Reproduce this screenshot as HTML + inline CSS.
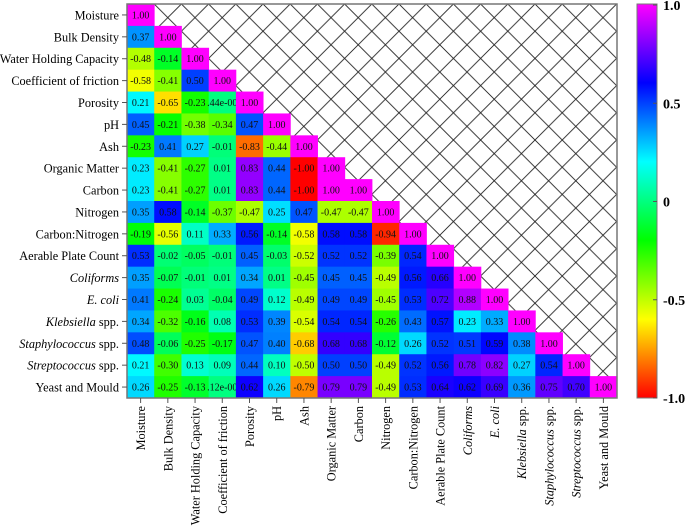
<!DOCTYPE html>
<html><head><meta charset="utf-8"><style>
body{margin:0;background:#fff}
svg{display:block;font-family:"Liberation Serif",serif}
</style></head><body>
<svg id="chart" width="685" height="526">
<defs>
<pattern id="hatch" patternUnits="userSpaceOnUse" width="27.2" height="27.2" x="127" y="4">
<path d="M0,0L27.2,27.2M27.2,0L0,27.2" stroke="#222" stroke-width="0.9"/>
</pattern>
<linearGradient id="cbgrad" x1="0" y1="0" x2="0" y2="1"></linearGradient>
</defs>
<rect x="127" y="4" width="490" height="394" fill="url(#hatch)"/>
<g id="cells"></g>
<rect x="127" y="4" width="490" height="394" fill="none" stroke="#777" stroke-width="1.5"/>
<g id="axes"></g>
<rect x="637" y="4" width="20" height="394" fill="url(#cbgrad)" stroke="#777" stroke-width="1"/>
<g id="cb"></g>
</svg>
<script>
const labels=["Moisture","Bulk Density","Water Holding Capacity","Coefficient of friction","Porosity","pH","Ash","Organic Matter","Carbon","Nitrogen","Carbon:Nitrogen","Aerable Plate Count","Coliforms","E. coli","Klebsiella spp.","Staphylococcus spp.","Streptococcus spp.","Yeast and Mould"];
const row0=[1.00];
const row1=[0.37,1.00];
const row2=[-0.48,-0.14,1.00];
const row3=[-0.58,-0.41,0.50,1.00];
const row4=[0.21,-0.65,-0.23,0.00,1.00];
const row5=[0.45,-0.21,-0.38,-0.34,0.47,1.00];
const row6=[-0.23,0.41,0.27,-0.01,-0.83,-0.44,1.00];
const row7=[0.23,-0.41,-0.27,0.01,0.83,0.44,-1.00,1.00];
const row8=[0.23,-0.41,-0.27,0.01,0.83,0.44,-1.00,1.00,1.00];
const row9=[0.35,0.58,-0.14,-0.37,-0.47,0.25,0.47,-0.47,-0.47,1.00];
const row10=[-0.19,-0.56,0.11,0.33,0.56,-0.14,-0.58,0.58,0.58,-0.94,1.00];
const row11=[0.53,-0.02,-0.05,-0.01,0.45,-0.03,-0.52,0.52,0.52,-0.39,0.54,1.00];
const row12=[0.35,-0.07,-0.01,0.01,0.34,0.01,-0.45,0.45,0.45,-0.49,0.56,0.66,1.00];
const row13=[0.41,-0.24,0.03,-0.04,0.49,0.12,-0.49,0.49,0.49,-0.45,0.53,0.72,0.88,1.00];
const row14=[0.34,-0.32,-0.16,0.08,0.53,0.39,-0.54,0.54,0.54,-0.26,0.43,0.57,0.23,0.33,1.00];
const row15=[0.48,-0.06,-0.25,-0.17,0.47,0.40,-0.68,0.68,0.68,-0.12,0.26,0.52,0.51,0.59,0.38,1.00];
const row16=[0.21,-0.30,0.13,0.09,0.44,0.10,-0.50,0.50,0.50,-0.49,0.52,0.56,0.78,0.82,0.27,0.54,1.00];
const row17=[0.26,-0.25,-0.13,0.00,0.62,0.26,-0.79,0.79,0.79,-0.49,0.53,0.64,0.62,0.69,0.36,0.75,0.70,1.00];
const rows=[row0,row1,row2,row3,row4,row5,row6,row7,row8,row9,row10,row11,row12,row13,row14,row15,row16,row17];
const specialLabels={"4,3":".44e-00","17,3":".12e-00"};
const cbTicks=[1.0,0.5,0,-0.5,-1.0];
const cbTickText=["1.0","0.5","0","-0.5","-1.0"];

const NS="http://www.w3.org/2000/svg";
const X0=127,Y0=4,W=490,H=394,N=labels.length,cw=W/N,ch=H/N;
const xPos=i=>X0+i*cw, yPos=i=>Y0+i*ch;
const cbTop=5,cbBot=398;
const cbY=v=>cbBot-(v+1)/2*(cbBot-cbTop);
const color=v=>`hsl(${150*(Math.max(-1,Math.min(1,v))+1)},100%,50%)`;
function mk(tag,attrs,parent){const e=document.createElementNS(NS,tag);for(const k in attrs)e.setAttribute(k,attrs[k]);parent.appendChild(e);return e;}
const cells=document.getElementById('cells');
rows.forEach((r,i)=>{r.forEach((v,j)=>{
  const rc=mk('rect',{x:xPos(j),y:yPos(i),width:cw+0.4,height:ch+0.4,fill:color(v)},cells);
  
  
  const t=mk('text',{x:xPos(j)+cw/2,y:yPos(i)+ch/2+3.5,'text-anchor':'middle','font-size':'10',fill:'#111'},cells);
  t.textContent=specialLabels[i+','+j]||v.toFixed(2);
  
  
});});
const ax=document.getElementById('axes');
const italicMap={"Coliforms":[["Coliforms",1]],"E. coli":[["E. coli",1]],"Klebsiella spp.":[["Klebsiella",1],[" spp.",0]],"Staphylococcus spp.":[["Staphylococcus",1],[" spp.",0]],"Streptococcus spp.":[["Streptococcus",1],[" spp.",0]]};
function fill(t,lab){const parts=italicMap[lab]||[[lab,0]];parts.forEach(p=>{const s=mk('tspan',{},t);if(p[1])s.setAttribute('font-style','italic');s.textContent=p[0];});}
labels.forEach((lab,i)=>{
  const yc=yPos(i)+ch/2;
  const tk=mk('line',{x1:X0-5,x2:X0,y1:yc,y2:yc,stroke:'#555','stroke-width':1},ax);
  
  
  const t=mk('text',{x:X0-8,y:yc+4.5,'text-anchor':'end','font-size':'12.3',fill:'#000'},ax);
  fill(t,lab);
  
  
  const xc=xPos(i)+cw/2;
  const tx=mk('line',{x1:xc,x2:xc,y1:Y0+H,y2:Y0+H+5,stroke:'#555','stroke-width':1},ax);
  
  
  const t2=mk('text',{x:0,y:0,'text-anchor':'end','font-size':'12.3',fill:'#000',transform:`translate(${xc+4.5},${Y0+H+8}) rotate(-90)`},ax);
  fill(t2,lab);
  
  
});
const g=document.getElementById('cbgrad');
for(let k=0;k<=60;k++){const v=1-2*k/60;
  mk('stop',{offset:(k/60),'stop-color':color(v)},g);}
const cb=document.getElementById('cb');
cbTicks.forEach((v,k)=>{
  const y=cbY(v);
  const l=mk('line',{x1:653,x2:657,y1:y,y2:y,stroke:'#555'},cb);
  
  
  const t=mk('text',{x:663,y:y+5,'font-size':'14','font-weight':'bold',fill:'#000'},cb);
  t.textContent=cbTickText[k];
  
  
});
</script>
</body></html>
